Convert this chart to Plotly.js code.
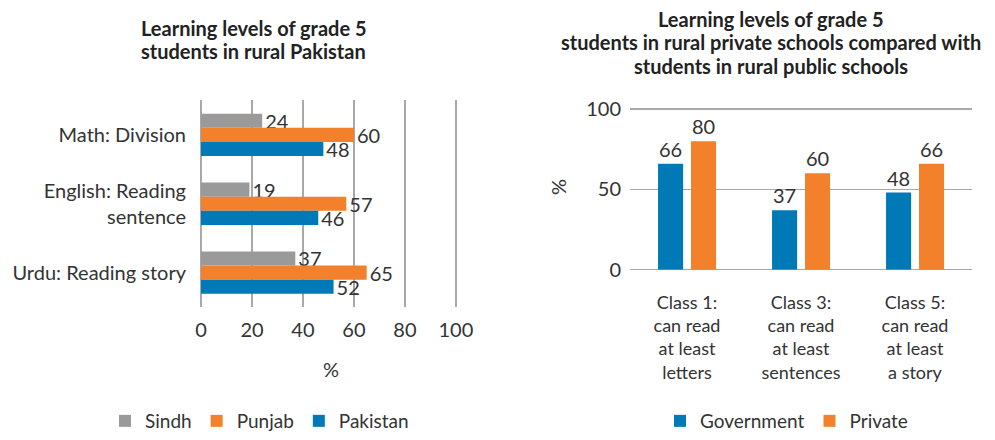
<!DOCTYPE html>
<html>
<head>
<meta charset="utf-8">
<script src="https://cdn.plot.ly/plotly-3.0.1.min.js"></script>
<style>html,body{margin:0;padding:0;background:#fff}#chart{width:995px;height:440px}</style>
</head>
<body>
<div id="chart"></div>
<script>
// Left chart data
var subjects = ["Math: Division", "English: Reading<br>sentence", "Urdu: Reading story"];
var sindh = [24, 19, 37];
var punjab = [60, 57, 65];
var pakistan = [48, 46, 52];

// Right chart data
var classes = ["Class 1:<br>can read<br>at least<br>letters", "Class 3:<br>can read<br>at least<br>sentences", "Class 5:<br>can read<br>at least<br>a story"];
var government = [66, 37, 48];
var privateSch = [80, 60, 66];

var leftTitle = ["Learning levels of grade 5", "students in rural Pakistan"];
var rightTitle = ["Learning levels of grade 5", "students in rural private schools compared with", "students in rural public schools"];

var GRAY = "#9a9a9a", ORANGE = "#f3802a", BLUE = "#0079b7", TXT = "#333333", GRID = "#a8a8a8";
var FONT = "Lato, 'Open Sans', sans-serif";
var W = 995, H = 440;

function hbar(name, vals, color) {
  return {type: "bar", orientation: "h", name: name, x: vals, y: subjects,
    marker: {color: color}, text: vals, texttemplate: "%{x}", textposition: "outside",
    textfont: {size: 20, color: TXT, family: FONT}, constraintext: "none", cliponaxis: false,
    xaxis: "x", yaxis: "y", legend: "legend", hoverinfo: "x+name"};
}
function vbar(name, vals, color, offset) {
  return {type: "bar", name: name, x: classes, y: vals, width: 0.22, offset: offset,
    marker: {color: color}, text: vals, texttemplate: "%{y}", textposition: "outside",
    textfont: {size: 20, color: TXT, family: FONT}, constraintext: "none", cliponaxis: false,
    xaxis: "x2", yaxis: "y2", legend: "legend2", hoverinfo: "y+name"};
}

var data = [
  hbar("Sindh", sindh, GRAY),
  hbar("Punjab", punjab, ORANGE),
  hbar("Pakistan", pakistan, BLUE),
  vbar("Government", government, BLUE, -0.254),
  vbar("Private", privateSch, ORANGE, 0.035)
];

var annotations = [];
var leftY = [28, 52];
leftTitle.forEach(function (t, i) {
  annotations.push({text: "<b>" + t + "</b>", xref: "paper", yref: "paper", x: 254 / W, y: 1 - leftY[i] / H,
    xanchor: "center", yanchor: "middle", showarrow: false, font: {size: 20, color: "#222"}});
});
var rightY = [19, 43, 67];
rightTitle.forEach(function (t, i) {
  annotations.push({text: "<b>" + t + "</b>", xref: "paper", yref: "paper", x: 771 / W, y: 1 - rightY[i] / H,
    xanchor: "center", yanchor: "middle", showarrow: false, font: {size: 20, color: "#222"}});
});

var layout = {
  width: W, height: H,
  margin: {l: 0, r: 0, t: 0, b: 0},
  paper_bgcolor: "#fff", plot_bgcolor: "#fff",
  font: {family: FONT, color: TXT, size: 19},
  barmode: "group",
  bargap: 0.385, bargroupgap: 0,
  showlegend: true,
  xaxis: {domain: [201 / W, 461 / W], range: [0, 102], tickvals: [0, 20, 40, 60, 80, 100], anchor: "y",
    showgrid: true, gridcolor: GRID, gridwidth: 1.5, zeroline: true, zerolinecolor: GRID, zerolinewidth: 1.5,
    showline: false, ticks: "", tickfont: {size: 20, color: TXT}, ticklabelstandoff: 9,
    title: {text: "%", font: {size: 20, color: TXT}, standoff: 22}, fixedrange: true},
  yaxis: {domain: [1 - 312 / H, 1 - 102 / H], anchor: "x", type: "category", autorange: "reversed",
    showgrid: false, showline: false, ticks: "", tickfont: {size: 20, color: TXT}, ticklabelstandoff: 14, fixedrange: true},
  xaxis2: {domain: [630 / W, 972 / W], anchor: "y2", type: "category", showgrid: false, showline: false,
    ticks: "", tickfont: {size: 18, color: TXT}, ticklabelstandoff: 20, fixedrange: true},
  yaxis2: {domain: [1 - 274 / H, 1 - 106 / H], anchor: "x2", range: [0, 103], tickvals: [0, 50, 100],
    showgrid: true, gridcolor: GRID, gridwidth: 1.5, zeroline: true, zerolinecolor: GRID, zerolinewidth: 1.5,
    showline: false, ticks: "", tickfont: {size: 20, color: TXT}, ticklabelstandoff: 8,
    title: {text: "%", font: {size: 20, color: TXT}, standoff: 14}, fixedrange: true},
  legend: {orientation: "h", x: 105 / W, xanchor: "left", y: 12 / H, yanchor: "middle",
    font: {size: 19, color: TXT}, bgcolor: "rgba(0,0,0,0)", traceorder: "normal"},
  legend2: {orientation: "h", x: 660 / W, xanchor: "left", y: 12 / H, yanchor: "middle",
    font: {size: 19, color: TXT}, bgcolor: "rgba(0,0,0,0)", traceorder: "normal"},
  annotations: annotations
};

Plotly.newPlot("chart", data, layout, {displayModeBar: false, staticPlot: true});
</script>
</body>
</html>
